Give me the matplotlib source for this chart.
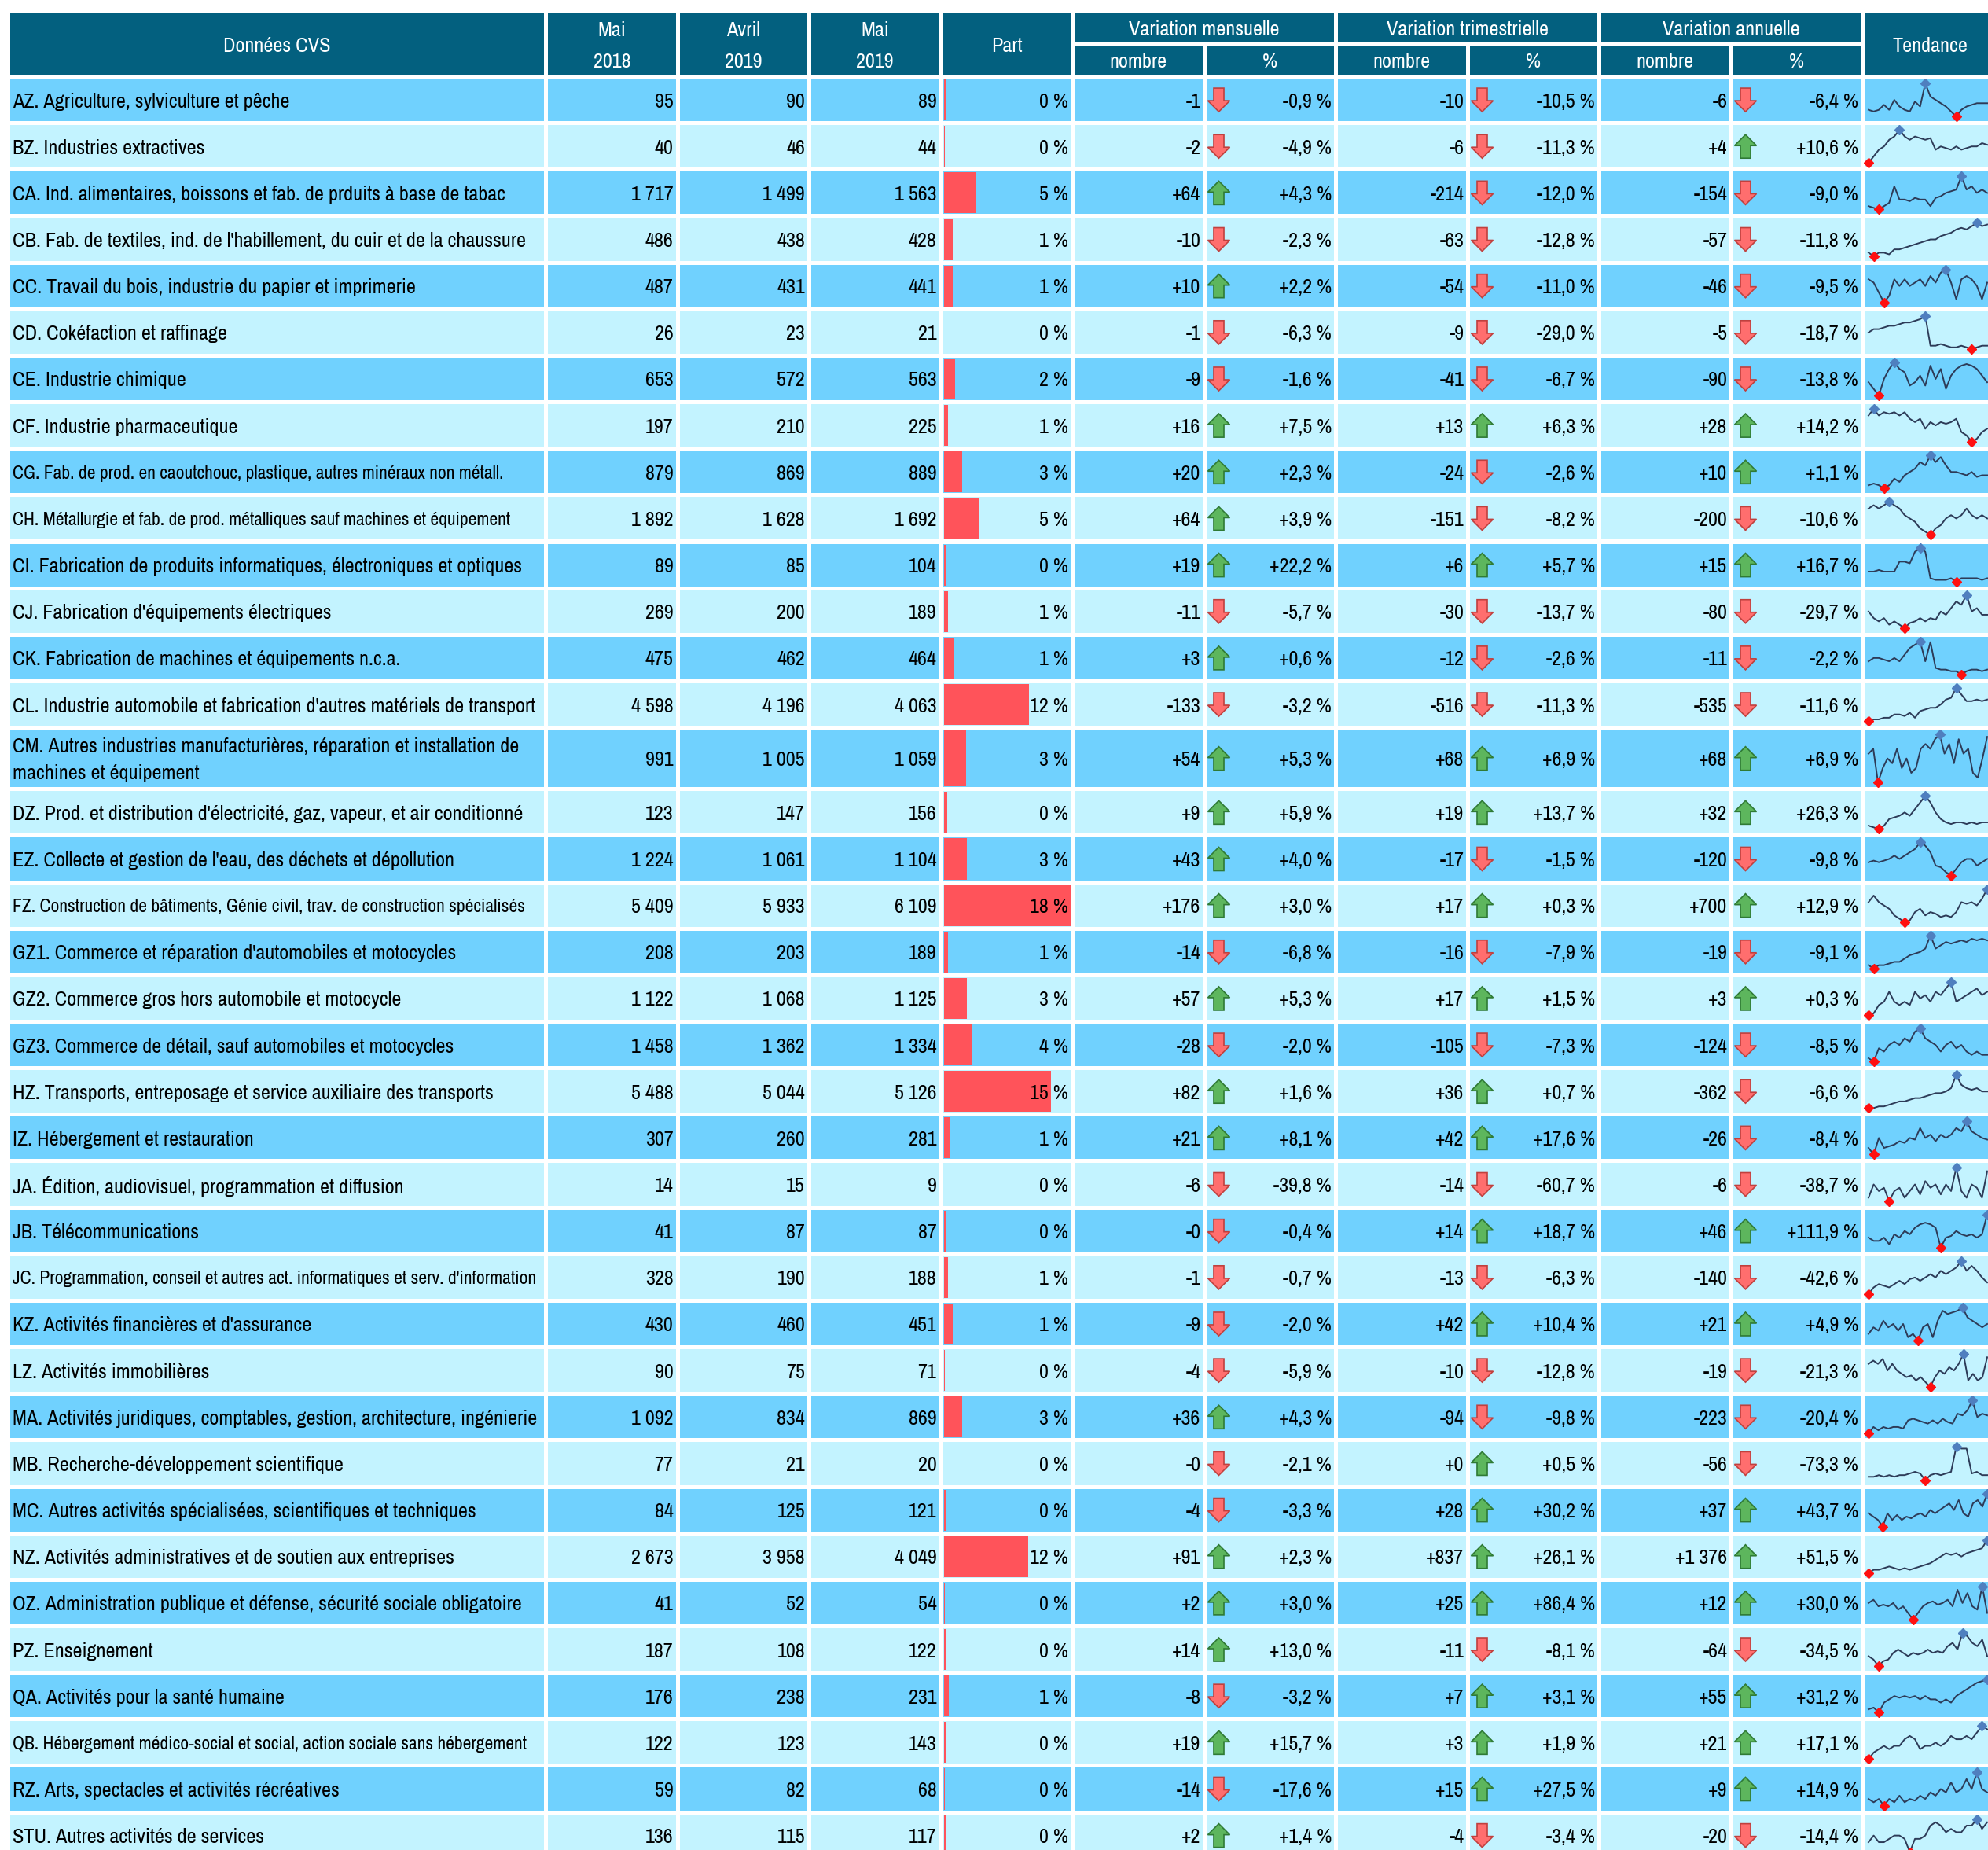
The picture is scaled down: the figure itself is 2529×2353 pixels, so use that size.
import numpy as np
import matplotlib
matplotlib.use("Agg")
import matplotlib.pyplot as plt
from matplotlib.patches import Rectangle, Polygon
from matplotlib import font_manager

# ---- data -------------------------------------------------------------
secteurs = [
    "AZ. Agriculture, sylviculture et pêche",
    "BZ. Industries extractives",
    "CA. Ind. alimentaires, boissons et fab. de prduits à base de tabac",
    "CB. Fab. de textiles, ind. de l'habillement, du cuir et de la chaussure",
    "CC. Travail du bois, industrie du papier et imprimerie",
    "CD. Cokéfaction et raffinage",
    "CE. Industrie chimique",
    "CF. Industrie pharmaceutique",
    "CG. Fab. de prod. en caoutchouc, plastique, autres minéraux non métall.",
    "CH. Métallurgie et fab. de prod. métalliques sauf machines et équipement",
    "CI. Fabrication de produits informatiques, électroniques et optiques",
    "CJ. Fabrication d'équipements électriques",
    "CK. Fabrication de machines et équipements n.c.a.",
    "CL. Industrie automobile et fabrication d'autres matériels de transport",
    "CM. Autres industries manufacturières, réparation et installation de\nmachines et équipement",
    "DZ. Prod. et distribution d'électricité, gaz, vapeur, et air conditionné",
    "EZ. Collecte et gestion de l'eau, des déchets et dépollution",
    "FZ. Construction de bâtiments, Génie civil, trav. de construction spécialisés",
    "GZ1. Commerce et réparation d'automobiles et motocycles",
    "GZ2. Commerce gros hors automobile et motocycle",
    "GZ3. Commerce de détail, sauf automobiles et motocycles",
    "HZ. Transports, entreposage et service auxiliaire des transports",
    "IZ. Hébergement et restauration",
    "JA. Édition, audiovisuel, programmation et diffusion",
    "JB. Télécommunications",
    "JC. Programmation, conseil et autres act. informatiques et serv. d'information",
    "KZ. Activités financières et d'assurance",
    "LZ. Activités immobilières",
    "MA. Activités juridiques, comptables, gestion, architecture, ingénierie",
    "MB. Recherche-développement scientifique",
    "MC. Autres activités spécialisées, scientifiques et techniques",
    "NZ. Activités administratives et de soutien aux entreprises",
    "OZ. Administration publique et défense, sécurité sociale obligatoire",
    "PZ. Enseignement",
    "QA. Activités pour la santé humaine",
    "QB. Hébergement médico-social et social, action sociale sans hébergement",
    "RZ. Arts, spectacles et activités récréatives",
    "STU. Autres activités de services",
]

mai_2018 = [95, 40, 1717, 486, 487, 26, 653, 197, 879, 1892, 89, 269, 475, 4598,
            991, 123, 1224, 5409, 208, 1122, 1458, 5488, 307, 14, 41, 328, 430,
            90, 1092, 77, 84, 2673, 41, 187, 176, 122, 59, 136]
avril_2019 = [90, 46, 1499, 438, 431, 23, 572, 210, 869, 1628, 85, 200, 462, 4196,
              1005, 147, 1061, 5933, 203, 1068, 1362, 5044, 260, 15, 87, 190, 460,
              75, 834, 21, 125, 3958, 52, 108, 238, 123, 82, 115]
mai_2019 = [89, 44, 1563, 428, 441, 21, 563, 225, 889, 1692, 104, 189, 464, 4063,
            1059, 156, 1104, 6109, 189, 1125, 1334, 5126, 281, 9, 87, 188, 451,
            71, 869, 20, 121, 4049, 54, 122, 231, 143, 68, 117]

var_mens_n = [-1, -2, 64, -10, 10, -1, -9, 16, 20, 64, 19, -11, 3, -133, 54, 9, 43,
              176, -14, 57, -28, 82, 21, -6, -0.35, -1, -9, -4, 36, -0.4, -4, 91, 2,
              14, -8, 19, -14, 2]
var_mens_p = [-0.9, -4.9, 4.3, -2.3, 2.2, -6.3, -1.6, 7.5, 2.3, 3.9, 22.2, -5.7, 0.6,
              -3.2, 5.3, 5.9, 4.0, 3.0, -6.8, 5.3, -2.0, 1.6, 8.1, -39.8, -0.4, -0.7,
              -2.0, -5.9, 4.3, -2.1, -3.3, 2.3, 3.0, 13.0, -3.2, 15.7, -17.6, 1.4]
var_trim_n = [-10, -6, -214, -63, -54, -9, -41, 13, -24, -151, 6, -30, -12, -516, 68,
              19, -17, 17, -16, 17, -105, 36, 42, -14, 14, -13, 42, -10, -94, 0.1, 28,
              837, 25, -11, 7, 3, 15, -4]
var_trim_p = [-10.5, -11.3, -12.0, -12.8, -11.0, -29.0, -6.7, 6.3, -2.6, -8.2, 5.7,
              -13.7, -2.6, -11.3, 6.9, 13.7, -1.5, 0.3, -7.9, 1.5, -7.3, 0.7, 17.6,
              -60.7, 18.7, -6.3, 10.4, -12.8, -9.8, 0.5, 30.2, 26.1, 86.4, -8.1, 3.1,
              1.9, 27.5, -3.4]
var_ann_n = [-6, 4, -154, -57, -46, -5, -90, 28, 10, -200, 15, -80, -11, -535, 68, 32,
             -120, 700, -19, 3, -124, -362, -26, -6, 46, -140, 21, -19, -223, -56, 37,
             1376, 12, -64, 55, 21, 9, -20]
var_ann_p = [-6.4, 10.6, -9.0, -11.8, -9.5, -18.7, -13.8, 14.2, 1.1, -10.6, 16.7, -29.7,
             -2.2, -11.6, 6.9, 26.3, -9.8, 12.9, -9.1, 0.3, -8.5, -6.6, -8.4, -38.7,
             111.9, -42.6, 4.9, -21.3, -20.4, -73.3, 43.7, 51.5, 30.0, -34.5, 31.2,
             17.1, 14.9, -14.4]

# monthly trend (visible part of the sparkline)
tendance = [
    [2, 1.5, 2, 3.5, 2, 5, 3, 2, 1.5, 4.5, 3, 10, 6, 5, 4, 3, 1.5, 0, 2, 3, 3.5, 4, 4, 4],
    [0, 2, 4, 5, 7, 8, 10, 8, 7, 8, 7.5, 7, 7.5, 4, 5, 4.5, 4, 5, 4, 4.5, 5, 5, 6, 5.5],
    [1, 0.5, 0, 1, 2, 7, 3, 3, 2.5, 3.5, 3, 3, 1, 3.5, 4, 5, 5.5, 6, 10, 6, 7, 5, 6, 5],
    [1, 0, 1, 1, 0.5, 2, 2, 2.5, 3, 3.5, 4, 4.5, 5, 5, 6, 6.5, 7, 8, 8.5, 8, 9, 10, 9, 9.5],
    [7, 6, 3, 0, 2, 7, 5, 7, 5, 6, 7, 5, 8, 6, 9, 10, 6, 1, 7, 8, 7, 5, 1, 6],
    [5, 6, 6, 6.5, 7, 7, 7.5, 8, 8, 8.5, 9, 10, 1, 1, 1.5, 1, 0.5, 0.5, 1, 0.5, 0, 0.5, 1, 1],
    [4, 2, 0, 5, 8, 10, 8, 7, 3, 4, 6, 3, 9, 5, 8, 2, 6, 8, 9, 9.5, 9, 8, 6, 4],
    [8, 10, 8, 9, 8.5, 9, 8, 9, 7, 6, 7, 4, 6, 5, 6, 5.5, 6, 7, 3, 2, 0, 1, 3, 4],
    [1, 1.5, 1, 0, 1, 3, 2, 4, 5, 6, 8, 7, 10, 8, 9.5, 7, 5, 5, 4.5, 4, 5, 3.5, 4, 4],
    [8, 9, 8, 9, 10, 9, 8, 6, 5, 4, 2, 1, 0, 2, 3, 5, 6, 5, 6, 8, 6, 5, 6, 5],
    [3, 3, 3.5, 3, 3, 3, 6, 6, 5.5, 9, 10, 9, 1, 0.5, 0.5, 0.5, 1, 0, 1, 1, 1, 1, 0.5, 1],
    [5, 3, 2, 3, 1, 2, 1, 0, 1.5, 2, 3, 2, 3, 2.5, 5, 4, 6, 8, 7, 10, 5, 6, 4, 4],
    [4, 5, 5, 4.5, 4, 5, 4, 6, 8, 9, 10, 4, 9.8, 2, 1.5, 1.5, 1, 1, 0, 1, 1.5, 1.5, 1, 1.5],
    [0, 0.5, 0.5, 1, 1, 2, 2, 1.5, 2.5, 1, 3, 3.5, 4, 4, 5, 6.5, 7, 10, 8, 6, 6, 6.5, 6, 6.5],
    [6, 7, 0, 3, 5, 4, 7, 3, 5, 2, 3, 7, 8, 7, 9, 10, 6, 8, 4, 9, 6, 7, 2, 1, 5, 9.5],
    [1, 0.5, 0, 1, 3, 3.5, 4, 5, 4, 6, 8, 10, 8, 5, 3, 2, 1.5, 2, 2, 1.5, 2, 1.5, 2, 2],
    [4, 4.5, 4, 4.5, 5, 6, 5, 6, 7, 8, 10, 9, 7, 3, 2.5, 1, 0, 2, 4, 5, 5, 3, 4, 5],
    [6, 8, 6, 5, 4, 2, 1, 0, 0.5, 3, 4, 2, 3, 2.5, 1.5, 2, 1.5, 3, 6, 5.5, 6, 5, 7, 10],
    [1, 0, 1, 1, 1.5, 2, 2, 3, 4, 4.5, 5, 6, 10, 6, 7, 8, 7.5, 8, 8.5, 8, 9, 8.5, 9, 8.5],
    [0, 0.5, 3, 4, 7, 4, 3, 4, 3, 7, 5, 6, 4, 7, 6, 8, 10, 4, 5, 6, 7, 8, 6, 7],
    [1, 0, 4, 3, 5, 6, 5, 7, 6, 9, 10, 7, 6, 5, 3, 5, 6, 4, 5, 3, 2, 3, 2, 2],
    [0, 0, 0.5, 0.5, 1, 1.5, 2, 2, 2.5, 3, 3, 3.5, 4, 4.5, 4.5, 5, 6, 10, 7, 6, 5.5, 6, 5, 5],
    [2, 0, 5, 2, 2.5, 3, 4, 3.5, 5, 4.5, 8, 5, 6, 4, 6, 5, 6, 8, 7, 10, 7, 6, 5, 4.5],
    [1, 5, 3, 4, 0, 3, 4, 1, 3, 5, 2, 6, 4, 5, 2, 5, 3, 10, 3, 1, 5, 4, 1, 9],
    [3, 2, 2, 3, 1, 4, 3, 5, 4, 6, 7, 7.5, 7, 6, 0, 3, 3.5, 5, 4, 3.5, 4, 3, 4, 10],
    [0, 2, 3, 2.5, 2, 3, 4, 3, 4.5, 5, 4, 5, 6, 5, 7, 6, 7, 8, 10, 7, 8.5, 7, 5, 3.5],
    [2, 4, 3, 6, 4, 5, 3, 5, 1, 2, 0, 4, 5, 1, 6, 9, 8, 8.5, 9, 10, 7, 6, 5, 4, 5],
    [7, 8, 7, 8.5, 5, 7, 5, 4, 3, 3.5, 2, 3, 1.5, 0, 3, 5, 4, 6, 5, 7, 10, 2, 4, 2, 3, 9],
    [0, 2, 1, 2, 1.5, 2, 2, 1.5, 4, 4.5, 4, 3.5, 3, 4, 3, 4.5, 3.5, 3, 6, 5.5, 7, 10, 5, 6, 5.5],
    [1, 1, 1.5, 1, 1.5, 1, 1.5, 1.5, 2, 2.5, 2, 0, 1.5, 2, 1.5, 2, 2.5, 10, 9.5, 9.5, 2, 2.5, 1.5, 1.5],
    [4, 3, 2, 0, 4, 2, 3.5, 2, 3, 2.5, 3.5, 4, 3, 5, 4, 5, 6, 7, 5, 8, 4, 3, 7, 8, 6, 10],
    [0, 1, 1, 1.5, 2, 1.5, 1, 1.5, 1, 1.5, 2, 2.5, 3, 4, 5, 6, 5.5, 6, 5, 6, 6.5, 7, 7.5, 10],
    [5, 6, 4, 4.5, 4, 5, 3, 4, 2, 0, 2, 4, 5, 5.5, 4.5, 5, 6, 4, 9, 5, 8, 4, 3, 10, 2],
    [3, 2, 0, 1.5, 2, 4, 5, 4, 3, 4, 3.5, 4, 5, 4, 4.5, 4, 6, 7, 5, 10, 9, 7, 6, 8, 3],
    [1, 1.5, 0, 3, 4, 5, 4.5, 5, 4.5, 5, 4, 5, 4, 4, 3, 4, 3, 5, 6, 7, 8, 9, 9.5, 10],
    [0, 2, 3, 4, 3, 4, 4, 6, 7, 6, 3, 4, 4, 5, 4, 5, 7, 6, 6, 7, 6, 8, 10, 9],
    [2, 1, 2, 0, 2, 1, 3, 1, 2, 1.5, 3, 2, 4, 3, 5, 4, 7, 4, 5, 8, 5, 10, 5, 4],
    [3, 5, 3, 3, 4, 5, 5, 4, 0, 4, 4, 5, 8, 9, 8, 6, 7, 6, 6, 8, 8, 10, 7, 9],
]

# ---- styling ----------------------------------------------------------
W, H = 2529, 2353
HEAD = "#03607F"
DARK = "#70D1FE"
LIGHT = "#C3F3FF"
BAR = "#FF535A"
LINE = "#2D3B58"

names = {f.name for f in font_manager.fontManager.ttflist}
FONT = "Liberation Sans"
for cand in ["Liberation Sans Narrow", "Arial Narrow", "Archivo Narrow",
             "PT Sans Narrow", "Roboto Condensed", "IBM Plex Sans Condensed",
             "Sofia Sans Condensed"]:
    if cand in names:
        FONT = cand
        break
plt.rcParams["font.family"] = [FONT, "DejaVu Sans"]

col_l = [13] + [697 + 167.5 * k for k in range(11)]
col_r = [692] + [697 + 167.5 * k + 162.5 for k in range(11)]
col_r[-1] = 2600


def fmt_int(v):
    return f"{v:,.0f}".replace(",", " ")


def fmt_signed(v):
    return f"{v:+,.0f}".replace(",", " ")


def fmt_pct(v):
    return f"{v:+.1f}".replace(".", ",") + " %"


def arrow(ax, cx, cy, up):
    hw, sw, hh, th = 14, 6.5, 14, 15
    if up:
        pts = [(cx, cy - th), (cx + hw, cy - th + hh), (cx + sw, cy - th + hh),
               (cx + sw, cy + th), (cx - sw, cy + th), (cx - sw, cy - th + hh),
               (cx - hw, cy - th + hh)]
        fc, ec = "#5DB65D", "#2F7A35"
    else:
        pts = [(cx, cy + th), (cx + hw, cy + th - hh), (cx + sw, cy + th - hh),
               (cx + sw, cy - th), (cx - sw, cy - th), (cx - sw, cy + th - hh),
               (cx - hw, cy + th - hh)]
        fc, ec = "#FF6E6E", "#C0403E"
    ax.add_patch(Polygon(pts, closed=True, fc=fc, ec=ec, lw=1.2, zorder=4))


fig = plt.figure(figsize=(W / 100, H / 100), dpi=100)
ax = fig.add_axes([0, 0, 1, 1])
ax.set_xlim(0, W)
ax.set_ylim(H, 0)
ax.axis("off")
renderer = fig.canvas.get_renderer()

# size the font so the first label has the width it has in the picture
probe = ax.text(0, 0, secteurs[0], fontsize=17)
FS = 17 * 350 / probe.get_window_extent(renderer).width
probe.remove()
FS_SMALL = FS * 0.9
DY = 2  # small downward nudge of the text baseline

# ---- header -----------------------------------------------------------
ht, hm1, hm2, hb = 17, 54, 59, 95


def head_cell(x0, x1, y0, y1, txt, ty=None):
    ax.add_patch(Rectangle((x0, y0), x1 - x0, y1 - y0, fc=HEAD, ec="none"))
    if txt:
        ax.text((x0 + x1) / 2, ty if ty else (y0 + y1) / 2 + DY, txt, color="white",
                fontsize=FS, ha="center", va="center")


head_cell(col_l[0], col_r[0], ht, hb, "Données CVS")
for k, (m, yr) in enumerate([("Mai", "2018"), ("Avril", "2019"), ("Mai", "2019")]):
    head_cell(col_l[1 + k], col_r[1 + k], ht, hb, m, 38)
    ax.text((col_l[1 + k] + col_r[1 + k]) / 2, 78, yr, color="white", fontsize=FS,
            ha="center", va="center")
head_cell(col_l[4], col_r[4], ht, hb, "Part")
for g, title in enumerate(["Variation mensuelle", "Variation trimestrielle",
                           "Variation annuelle"]):
    a, b = 5 + 2 * g, 6 + 2 * g
    head_cell(col_l[a], col_r[b], ht, hm1, title)
    head_cell(col_l[a], col_r[a], hm2, hb, "nombre")
    head_cell(col_l[b], col_r[b], hm2, hb, "%")
head_cell(col_l[11], col_r[11], ht, hb, None)
ax.text(col_l[11] + 83, (ht + hb) / 2 + DY, "Tendance", color="white", fontsize=FS,
        ha="center", va="center")

# ---- body -------------------------------------------------------------
total = sum(mai_2019)
vmax = max(mai_2019)

pitch = 59.15
y = 100.0
for i, lab in enumerate(secteurs):
    two = "\n" in lab
    h = pitch - 5 + (19 if two else 0)
    y0, y1 = y, y + h
    cy = (y0 + y1) / 2
    ty = cy + DY
    bg = DARK if i % 2 == 0 else LIGHT
    for c in range(12):
        ax.add_patch(Rectangle((col_l[c], y0), col_r[c] - col_l[c], h, fc=bg, ec="none"))

    t = ax.text(col_l[0] + 3, ty, lab, fontsize=FS, va="center", ha="left",
                linespacing=1.6)
    if not two and t.get_window_extent(renderer).width > 672:
        t.set_fontsize(FS_SMALL)

    for c, v in zip((1, 2, 3), (mai_2018[i], avril_2019[i], mai_2019[i])):
        ax.text(col_r[c] - 3, ty, fmt_int(v), fontsize=FS, ha="right", va="center")

    # part
    bw = mai_2019[i] / vmax * (col_r[4] - col_l[4])
    ax.add_patch(Rectangle((col_l[4] + 1, y0 + 1), bw, h - 2, fc=BAR, ec="none", zorder=3))
    ax.text(col_r[4] - 3, ty, f"{mai_2019[i] / total * 100:.0f} %", fontsize=FS,
            ha="right", va="center", zorder=5)

    for g, (n, p) in enumerate([(var_mens_n[i], var_mens_p[i]),
                                (var_trim_n[i], var_trim_p[i]),
                                (var_ann_n[i], var_ann_p[i])]):
        a, b = 5 + 2 * g, 6 + 2 * g
        ax.text(col_r[a] - 2, ty, fmt_signed(n), fontsize=FS, ha="right", va="center")
        arrow(ax, col_l[b] + 16, cy, n >= 0)
        ax.text(col_r[b] - 3, ty, fmt_pct(p), fontsize=FS, ha="right", va="center")

    # sparkline
    vals = np.array(tendance[i], dtype=float)
    sx0, sx1 = col_l[11] + 5, W - 1
    sax = fig.add_axes([sx0 / W, 1 - (y1 - 6) / H, (sx1 - sx0) / W, (h - 12) / H])
    sax.set_xlim(0, len(vals) - 1)
    sax.set_ylim(vals.min(), vals.max())
    sax.axis("off")
    xs = np.arange(len(vals))
    sax.plot(xs, vals, color=LINE, lw=1.4, solid_joinstyle="round", clip_on=False)
    imax, imin = int(np.argmax(vals)), int(np.argmin(vals))
    sax.plot(xs[imax], vals[imax], "D", color="#4F7FBF", ms=6, clip_on=False)
    sax.plot(xs[imin], vals[imin], "D", color="#FF1010", ms=6, clip_on=False)

    y += pitch + (19 if two else 0)

fig.savefig("out.png", dpi=100)
